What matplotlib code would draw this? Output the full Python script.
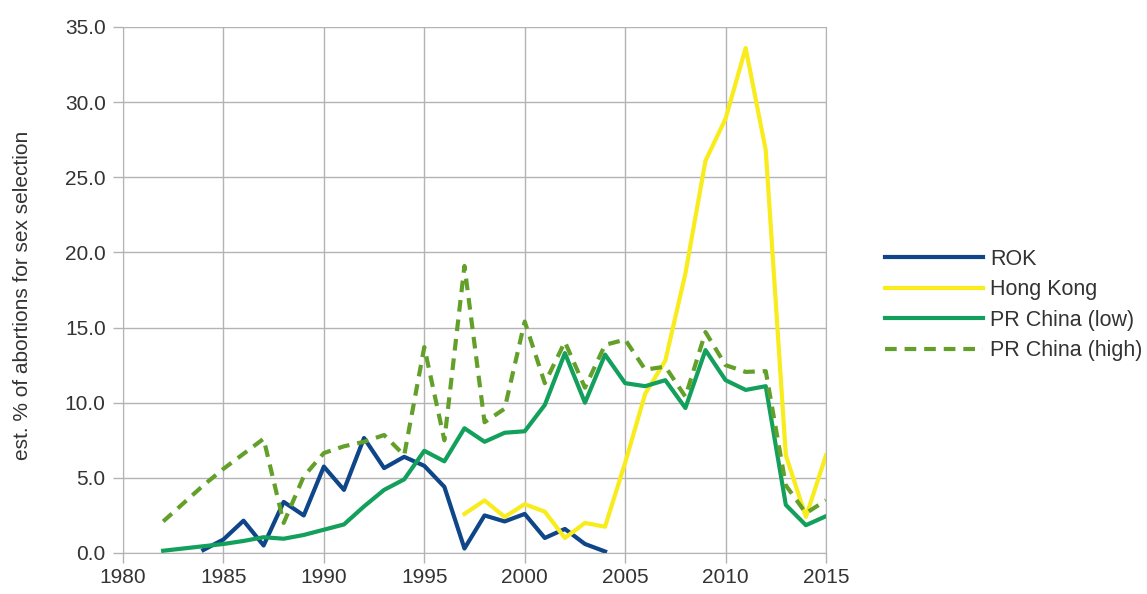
import matplotlib
matplotlib.use('Agg')
import matplotlib.pyplot as plt
import matplotlib.ticker as ticker

plt.rcParams['font.family'] = ['Liberation Sans', 'DejaVu Sans']

# data
rok_years = list(range(1984, 2005))
rok = [0.2, 0.9, 2.15, 0.5, 3.4, 2.5, 5.75, 4.2, 7.65, 5.65, 6.4, 5.8, 4.4,
       0.3, 2.5, 2.1, 2.6, 1.0, 1.6, 0.6, 0.1]

hk_years = list(range(1997, 2016))
hk = [2.6, 3.5, 2.4, 3.25, 2.75, 1.0, 2.0, 1.75, 6.0, 10.6, 12.8, 18.6,
      26.1, 28.9, 33.6, 26.8, 6.5, 2.4, 6.5]

cn_years = list(range(1982, 2016))
cn_low = [0.15, 0.3, 0.45, 0.6, 0.8, 1.05, 0.95, 1.2, 1.55, 1.9, 3.1, 4.2,
          4.9, 6.8, 6.1, 8.3, 7.4, 8.0, 8.1, 9.85, 13.3, 10.0, 13.2, 11.3,
          11.1, 11.5, 9.65, 13.5, 11.5, 10.85, 11.1, 3.2, 1.85, 2.45]
cn_high = [2.1, 3.3, 4.5, 5.6, 6.6, 7.6, 2.0, 5.1, 6.65, 7.1, 7.4, 7.85,
           6.5, 13.7, 7.5, 19.1, 8.7, 9.6, 15.4, 11.3, 14.05, 11.0, 13.85,
           14.2, 12.2, 12.4, 10.4, 14.7, 12.5, 12.05, 12.1, 4.5, 2.65, 3.5]

fig = plt.figure(figsize=(11.47, 5.94), dpi=100)
ax = fig.add_axes([123 / 1147, 41 / 594, 703 / 1147, 526 / 594])

ax.plot(rok_years, rok, color='#0f4589', lw=3, label='ROK')
ax.plot(hk_years, hk, color='#f8ec1c', lw=3, label='Hong Kong')
ax.plot(cn_years, cn_low, color='#139f5c', lw=3, label='PR China (low)')
ax.plot(cn_years, cn_high, color='#62a02a', lw=3, dashes=(2.8, 1.9),
        label='PR China (high)')

ax.set_xlim(1980, 2015)
ax.set_ylim(0, 35)
ax.xaxis.set_major_locator(ticker.MultipleLocator(5))
ax.yaxis.set_major_locator(ticker.MultipleLocator(5))
ax.yaxis.set_major_formatter(ticker.FormatStrFormatter('%.1f'))
ax.grid(True, color='#b3b3b3', lw=1)
ax.set_axisbelow(True)
for s in ax.spines.values():
    s.set_color('#b3b3b3')
ax.spines['top'].set_visible(False)
ax.tick_params(colors='#b3b3b3', length=7, width=1, labelcolor='#333333',
               labelsize=15)
ax.tick_params(axis='x', pad=4)
ax.tick_params(axis='y', pad=5.5)
ax.set_ylabel('est. % of abortions for sex selection', fontsize=15,
              color='#333333')
ax.yaxis.set_label_coords(-0.129, 0.49)

fig.legend(loc='center left', bbox_to_anchor=(885 / 1147, 1 - 305 / 594),
           frameon=False, fontsize=15.5, handlelength=4.56, handletextpad=0.33,
           labelspacing=0.44, borderpad=0, borderaxespad=0,
           labelcolor='#333333')

fig.savefig('out.png', dpi=100)
